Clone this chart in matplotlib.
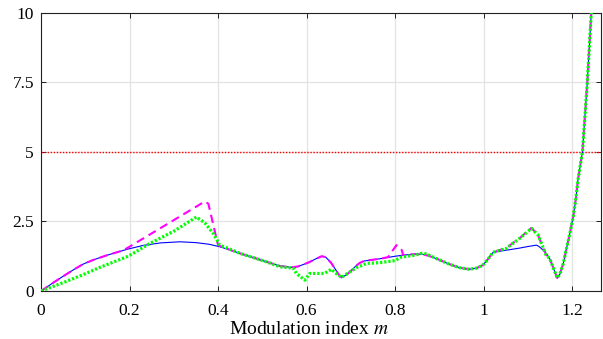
import numpy as np
import matplotlib
matplotlib.use('Agg')
import matplotlib.pyplot as plt

# data (modulation index m vs. value)
# blue solid curve
blue_x = [0, 0.025, 0.05, 0.075, 0.0955, 0.12, 0.15, 0.175, 0.197, 0.231, 0.27, 0.314,
          0.35, 0.38, 0.404, 0.43, 0.45, 0.48, 0.509, 0.54, 0.565, 0.58, 0.592, 0.605,
          0.62, 0.634, 0.643, 0.655, 0.665, 0.672, 0.679, 0.69, 0.70, 0.71, 0.72, 0.73,
          0.743, 0.77, 0.80, 0.818, 0.84, 0.859, 0.875, 0.897, 0.92, 0.945, 0.968,
          0.985, 0.998, 1.01, 1.021, 1.04, 1.06, 1.08, 1.10, 1.119, 1.125, 1.13, 1.14,
          1.149, 1.158, 1.166, 1.172, 1.18, 1.187, 1.195, 1.202, 1.208, 1.213, 1.223,
          1.234, 1.243, 1.26]
blue_y = [0, 0.27, 0.53, 0.78, 0.97, 1.13, 1.29, 1.41, 1.51, 1.64, 1.73, 1.77,
          1.74, 1.68, 1.59, 1.46, 1.35, 1.20, 1.05, 0.90, 0.85, 0.88, 0.95, 1.03,
          1.15, 1.25, 1.22, 1.02, 0.78, 0.60, 0.49, 0.58, 0.72, 0.88, 1.01, 1.08,
          1.11, 1.17, 1.25, 1.29, 1.32, 1.33, 1.27, 1.14, 0.98, 0.84, 0.78,
          0.83, 0.93, 1.15, 1.39, 1.44, 1.49, 1.54, 1.60, 1.65, 1.60, 1.53, 1.38,
          1.17, 0.80, 0.47, 0.60, 1.00, 1.53, 2.10, 2.66, 3.30, 4.00, 5.00,
          7.50, 10.0, 14.0]

# magenta dashed curve
magenta_x = [0, 0.025, 0.05, 0.075, 0.0955, 0.12, 0.15, 0.175, 0.186, 0.37, 0.378,
             0.400, 0.43, 0.45, 0.48, 0.509, 0.54, 0.565, 0.58, 0.592, 0.605,
             0.62, 0.634, 0.643, 0.655, 0.665, 0.672, 0.679, 0.69, 0.70, 0.71, 0.72,
             0.73, 0.743, 0.77, 0.784, 0.803, 0.815, 0.818, 0.84, 0.859, 0.875, 0.897,
             0.92, 0.945, 0.968, 0.985, 0.998, 1.01, 1.021, 1.051, 1.081, 1.108, 1.123,
             1.141, 1.149, 1.158, 1.166, 1.172, 1.18, 1.187, 1.195, 1.202, 1.208,
             1.213, 1.223, 1.234, 1.243, 1.26]
magenta_y = [0, 0.27, 0.53, 0.78, 0.97, 1.13, 1.29, 1.41, 1.46, 3.22, 3.14,
             1.65, 1.46, 1.35, 1.20, 1.05, 0.90, 0.85, 0.88, 0.95, 1.03,
             1.15, 1.25, 1.22, 1.02, 0.78, 0.60, 0.49, 0.58, 0.72, 0.88, 1.01,
             1.08, 1.11, 1.17, 1.22, 1.65, 1.47, 1.29, 1.32, 1.33, 1.27, 1.14,
             0.98, 0.84, 0.78, 0.83, 0.93, 1.15, 1.39, 1.55, 1.90, 2.27, 2.00,
             1.30, 1.17, 0.80, 0.47, 0.60, 1.00, 1.53, 2.10, 2.66, 3.30,
             4.00, 5.00, 7.50, 10.0, 14.0]

# green dotted curve
green_x = [0, 0.05, 0.10, 0.133, 0.197, 0.246, 0.30, 0.351, 0.37, 0.389, 0.404, 0.423,
           0.45, 0.48, 0.509, 0.54, 0.57, 0.577, 0.596, 0.607, 0.64, 0.656, 0.665,
           0.679, 0.695, 0.713, 0.735, 0.765, 0.799, 0.814, 0.845, 0.863, 0.875, 0.897,
           0.92, 0.945, 0.968, 0.985, 0.998, 1.01, 1.021, 1.051, 1.081, 1.108, 1.123,
           1.141, 1.149, 1.158, 1.166, 1.172, 1.18, 1.187, 1.195, 1.202, 1.208, 1.213,
           1.223, 1.234, 1.243, 1.26]
green_y = [0, 0.30, 0.62, 0.85, 1.25, 1.71, 2.15, 2.66, 2.45, 2.07, 1.65, 1.53,
           1.35, 1.20, 1.05, 0.87, 0.82, 0.63, 0.39, 0.63, 0.63, 0.78, 0.65,
           0.49, 0.66, 0.84, 0.99, 1.02, 1.09, 1.22, 1.29, 1.37, 1.30, 1.14,
           0.98, 0.84, 0.78, 0.83, 0.93, 1.15, 1.39, 1.53, 1.89, 2.25, 2.01,
           1.29, 1.17, 0.80, 0.47, 0.60, 1.00, 1.53, 2.10, 2.66, 3.30, 4.00,
           5.00, 7.50, 10.0, 14.0]

limit_y = 5

x_ticks = [0, 0.2, 0.4, 0.6, 0.8, 1.0, 1.2]
x_tick_labels = ['0', '0.2', '0.4', '0.6', '0.8', '1', '1.2']
y_ticks = [0, 2.5, 5, 7.5, 10]
y_tick_labels = ['0', '2.5', '5', '7.5', '10']

plt.rcParams['font.family'] = ['Liberation Serif', 'DejaVu Serif']
plt.rcParams['mathtext.fontset'] = 'stix'

fig = plt.figure(figsize=(6.03, 3.39), dpi=100)
ax = fig.add_axes([0.068, 0.1416, 0.9287, 0.8201])

ax.plot(blue_x, blue_y, color='#0000ff', linewidth=0.8, zorder=3)
ax.plot(magenta_x, magenta_y, color='#ff00ff', linewidth=1.5,
        linestyle=(0, (4, 2.5)), zorder=4)
ax.plot(green_x, green_y, color='#00ff00', linewidth=2.3,
        linestyle=(0, (0.7, 0.6)), dash_capstyle='butt', zorder=5)
ax.axhline(limit_y, color='#ff0000', linewidth=1.0, linestyle=(0, (1, 1.2)), zorder=2)

ax.set_xlim(0, 1.265)
ax.set_ylim(0, 10)
ax.set_xticks(x_ticks)
ax.set_xticklabels(x_tick_labels)
ax.set_yticks(y_ticks)
ax.set_yticklabels(y_tick_labels)
ax.tick_params(direction='in', length=3.5, width=0.6, labelsize=12.5,
               top=True, right=True)
ax.tick_params(axis='x', pad=9)
ax.tick_params(axis='y', pad=5)
ax.grid(True, color='#e3e3e3', linewidth=0.9)
ax.set_axisbelow(True)
for sp in ax.spines.values():
    sp.set_linewidth(0.8)
    sp.set_color('#222222')

ax.set_xlabel('Modulation index $m$', fontsize=14)
ax.xaxis.set_label_coords(0.478, -0.1536, transform=ax.transAxes)
ax.xaxis.label.set_va('baseline')

fig.savefig('out.png', dpi=100)
